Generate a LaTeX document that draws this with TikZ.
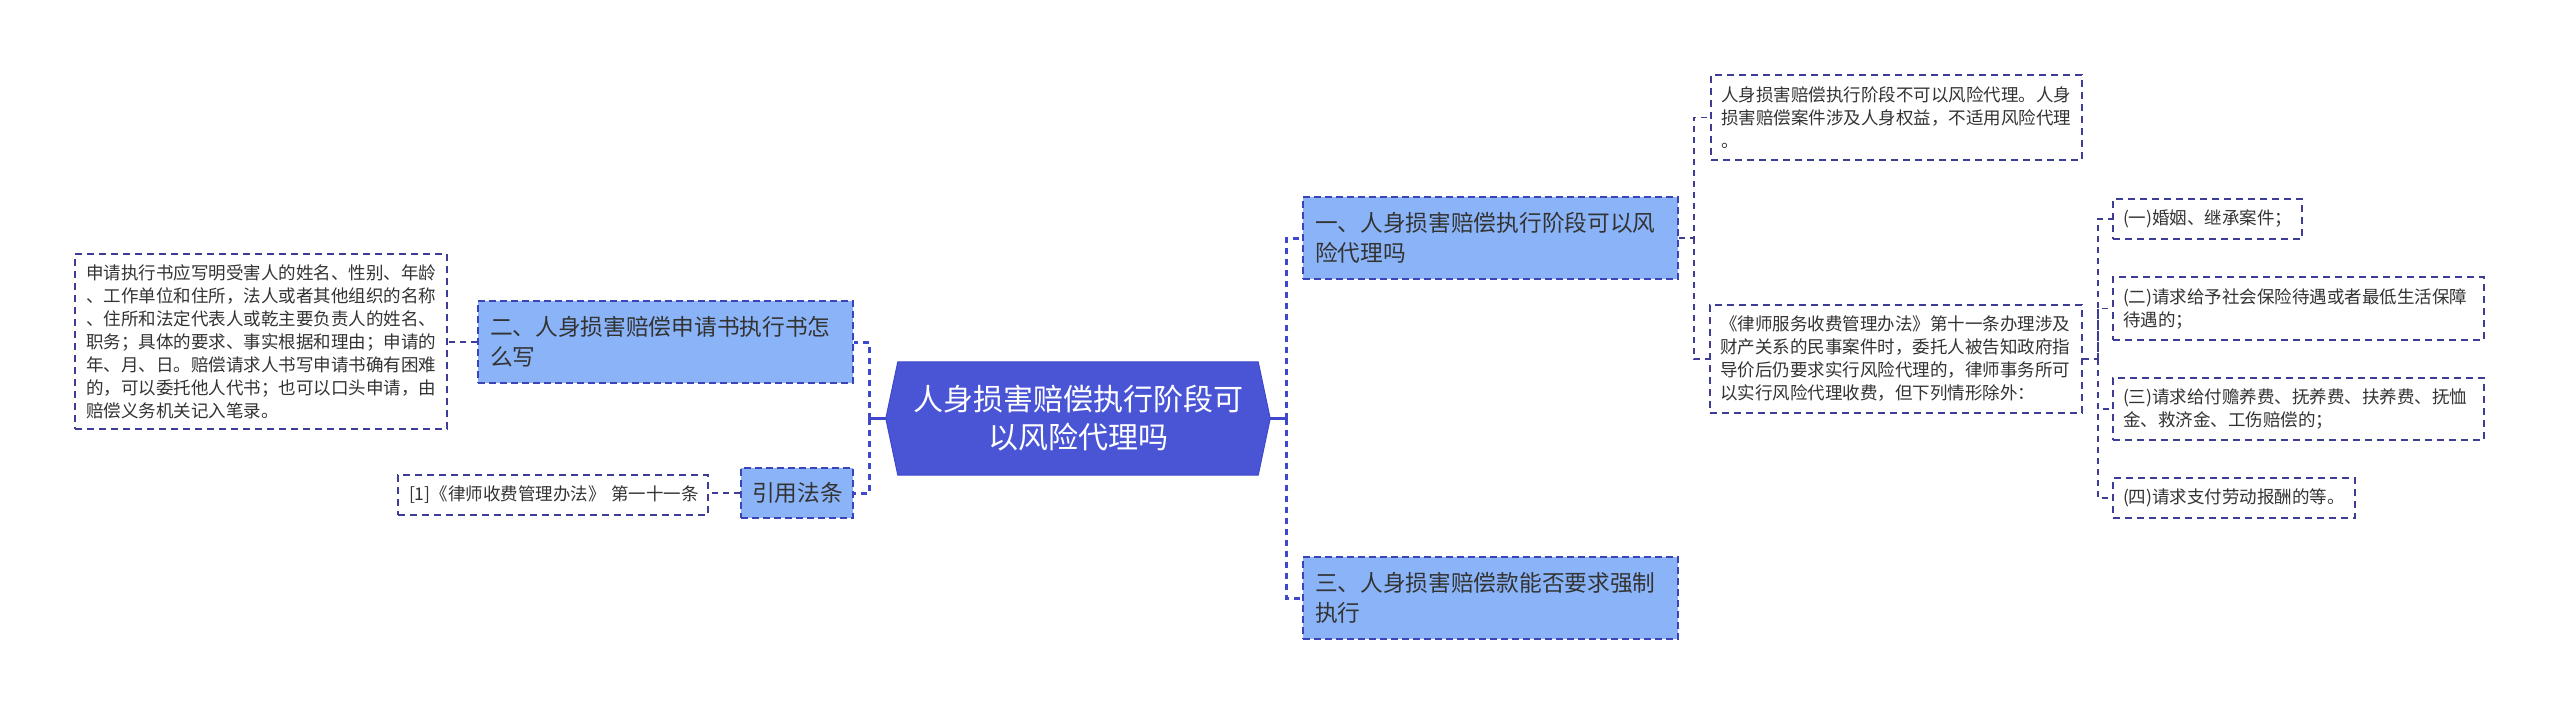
\documentclass[tikz,border=0pt]{standalone}
\usepackage{fontspec}
\newfontfamily\cjk{Noto Sans CJK SC}
\usetikzlibrary{backgrounds,calc}
\definecolor{hexfill}{HTML}{4A55D6}
\definecolor{nodefill}{HTML}{8BB4F8}
\definecolor{nodeborder}{HTML}{3A44B8}
\definecolor{leafborder}{HTML}{3D3D96}
\definecolor{trunkcol}{HTML}{3F48CC}
\definecolor{txt}{HTML}{333333}
\tikzset{
  leaf/.style={draw=leafborder, line width=1.3pt, dash pattern=on 7pt off 5pt,
    fill=white, text=txt, align=left, inner ysep=0pt,
    font=\cjk\fontsize{17.5}{23}\selectfont},
  topic/.style={draw=nodeborder, line width=1.3pt, dash pattern=on 7pt off 4pt,
    fill=nodefill, text=txt, align=left, inner ysep=0pt,
    font=\cjk\fontsize{22.7}{30}\selectfont},
  centre/.style={text=white, align=center, inner sep=0pt,
    font=\cjk\fontsize{30}{38}\selectfont},
  trunk/.style={draw=trunkcol, line width=3pt, dash pattern=on 6pt off 5pt},
  stem/.style={draw=trunkcol, line width=2.5pt},
  twig/.style={draw=leafborder, line width=1.8pt, dash pattern=on 6pt off 5pt},
}
\begin{document}
\begin{tikzpicture}[x=1pt,y=-1pt]
\useasboundingbox (0,0) rectangle (2560,715);
% centre
\node[centre, minimum width=384pt, minimum height=113pt] (C) at (1078,418.5)
  {人身损害赔偿执行阶段可\\以风险代理吗};
\begin{scope}[on background layer]
  \fill[white] (0,0) rectangle (2560,715);
  \filldraw[fill=hexfill, draw=trunkcol, line width=1pt]
    (C.west) -- ([xshift=12pt]C.north west) -- ([xshift=-12pt]C.north east)
    -- (C.east) -- ([xshift=-12pt]C.south east) -- ([xshift=12pt]C.south west) -- cycle;
\end{scope}
% left side
\node[topic, minimum height=82pt, text width=351pt, inner xsep=12pt] (N2) at (665.5,342)
  {二、人身损害赔偿申请书执行书怎\\么写};
\node[topic, minimum height=50pt, text width=90pt, inner xsep=11pt, align=center] (N4) at (797,493)
  {引用法条};
\node[leaf, minimum height=175pt, text width=350pt, inner xsep=11pt] (L1) at (261,341.5)
  {申请执行书应写明受害人的姓名、性别、年龄\\
   、工作单位和住所，法人或者其他组织的名称\\
   、住所和法定代表人或乾主要负责人的姓名、\\
   职务；具体的要求、事实根据和理由；申请的\\
   年、月、日。赔偿请求人书写申请书确有困难\\
   的，可以委托他人代书；也可以口头申请，由\\
   赔偿义务机关记入笔录。};
\node[leaf, minimum height=40pt, text width=288pt, inner xsep=11pt] (L2) at (553,495)
  {\mbox{[1]《律师收费管理办法》 第一十一条}};
% right side
\node[topic, minimum height=82pt, text width=351pt, inner xsep=12pt] (N1) at (1490.5,238)
  {一、人身损害赔偿执行阶段可以风\\险代理吗};
\node[topic, minimum height=82pt, text width=351pt, inner xsep=12pt] (N3) at (1490.5,598)
  {三、人身损害赔偿款能否要求强制\\执行};
\node[leaf, minimum height=85pt, text width=351pt, inner xsep=10pt] (LA) at (1896.5,117.5)
  {人身损害赔偿执行阶段不可以风险代理。人身\\损害赔偿案件涉及人身权益，不适用风险代理\\。};
\node[leaf, minimum height=108pt, text width=352pt, inner xsep=10pt] (LB) at (1896,359)
  {《律师服务收费管理办法》第十一条办理涉及\\财产关系的民事案件时，委托人被告知政府指\\导价后仍要求实行风险代理的，律师事务所可\\以实行风险代理收费，但下列情形除外：};
\node[leaf, minimum height=40pt, text width=169pt, inner xsep=10pt] (R1) at (2207.5,219)
  {(一)婚姻、继承案件；};
\node[leaf, minimum height=63pt, text width=351pt, inner xsep=10pt] (R2) at (2298.5,308.5)
  {(二)请求给予社会保险待遇或者最低生活保障\\待遇的；};
\node[leaf, minimum height=62pt, text width=351pt, inner xsep=10pt] (R3) at (2298.5,409)
  {(三)请求给付赡养费、抚养费、扶养费、抚恤\\金、救济金、工伤赔偿的；};
\node[leaf, minimum height=40pt, text width=222pt, inner xsep=10pt] (R4) at (2234,498)
  {(四)请求支付劳动报酬的等。};
% connectors
\coordinate (lt) at ($(C.west)+(-16pt,0)$);
\coordinate (rt) at ($(C.east)+(16pt,0)$);
\draw[stem] (C.west) -- (lt);
\draw[stem] (C.east) -- (rt);
\draw[trunk] (lt) |- (N2.east);
\draw[trunk] (lt) |- (N4.east);
\draw[trunk] (rt) |- (N1.west);
\draw[trunk] (rt) |- (N3.west);
\draw[twig] (N2.west) -- (L1.east |- N2.west);
\draw[twig] (N4.west) -- (L2.east |- N4.west);
\coordinate (t1) at ($(N1.east)+(15pt,0)$);
\draw[twig] (N1.east) -- (t1) |- (LA.west);
\draw[twig] (t1) |- (LB.west);
\coordinate (t2) at ($(LB.east)+(15pt,0)$);
\draw[twig] (LB.east) -- (t2) |- (R1.west);
\draw[twig] (t2) |- (R2.west);
\draw[twig] (t2) |- (R3.west);
\draw[twig] (t2) |- (R4.west);
\end{tikzpicture}
\end{document}
